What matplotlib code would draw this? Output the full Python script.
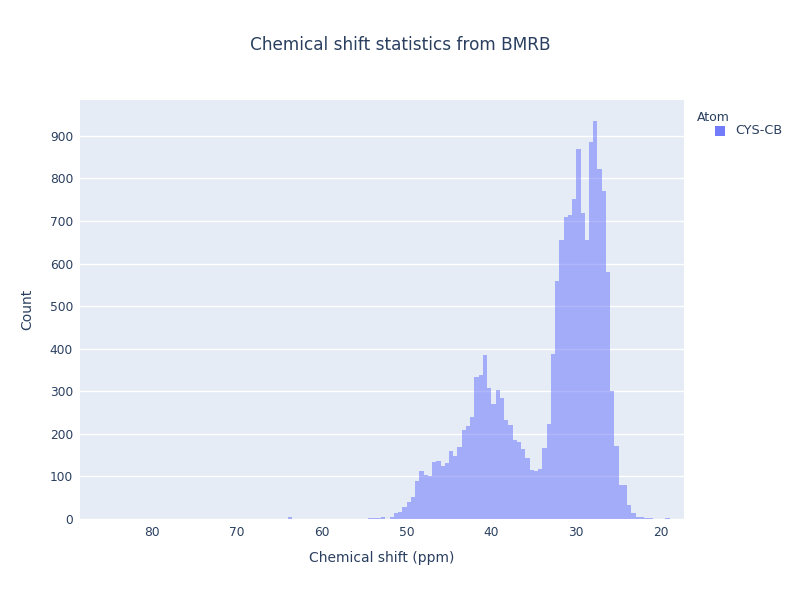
import numpy as np
import matplotlib
matplotlib.use("Agg")
import matplotlib.pyplot as plt
from matplotlib.patches import Rectangle

plt.rcParams['font.family'] = ['DejaVu Sans']

# histogram bins: left edge in ppm, width 0.5 ppm
bin_left = [19.0, 19.5, 20.0, 20.5, 21.0, 21.5, 22.0, 22.5, 23.0, 23.5,
            24.0, 24.5, 25.0, 25.5, 26.0, 26.5, 27.0, 27.5, 28.0, 28.5,
            29.0, 29.5, 30.0, 30.5, 31.0, 31.5, 32.0, 32.5, 33.0, 33.5,
            34.0, 34.5, 35.0, 35.5, 36.0, 36.5, 37.0, 37.5, 38.0, 38.5,
            39.0, 39.5, 40.0, 40.5, 41.0, 41.5, 42.0, 42.5, 43.0, 43.5,
            44.0, 44.5, 45.0, 45.5, 46.0, 46.5, 47.0, 47.5, 48.0, 48.5,
            49.0, 49.5, 50.0, 50.5, 51.0, 51.5, 52.0, 52.5, 53.0, 53.5,
            54.0, 63.5]
counts = [3, 1, 1, 0, 3, 3, 4, 5, 15, 33,
          80, 80, 172, 300, 580, 770, 822, 935, 886, 655,
          718, 868, 752, 715, 710, 655, 560, 388, 222, 166,
          118, 113, 115, 143, 165, 180, 186, 221, 233, 285,
          303, 271, 307, 386, 339, 334, 239, 218, 208, 168,
          148, 160, 132, 124, 136, 134, 101, 104, 112, 90,
          52, 41, 29, 17, 13, 4, 1, 5, 2, 2,
          2, 4]
bin_width = 0.5

x_ticks = [80, 70, 60, 50, 40, 30, 20]
y_ticks = [0, 100, 200, 300, 400, 500, 600, 700, 800, 900]

trace_name = "CYS-CB"
text_col = "#2a3f5f"
bar_col = "#636efa"

fig = plt.figure(figsize=(8, 6), dpi=100)
ax = fig.add_axes([0.1, 0.135, 0.755, 0.6983])
ax.set_facecolor("#E5ECF6")

ax.bar(bin_left, counts, width=bin_width, align="edge", color=bar_col,
       alpha=0.5, linewidth=0, zorder=2)

ax.set_xlim(88.5, 17.3)
ax.set_ylim(0, 984)
ax.set_xticks(x_ticks)
ax.set_yticks(y_ticks)
ax.yaxis.grid(True, color="white", linewidth=1, zorder=0)
ax.set_axisbelow(True)
for s in ax.spines.values():
    s.set_visible(False)
ax.tick_params(length=0, labelsize=8.8, colors=text_col)
ax.tick_params(axis="y", pad=5)
ax.tick_params(axis="x", pad=5)

ax.set_xlabel("Chemical shift (ppm)", fontsize=10, color=text_col, labelpad=9)
ax.set_ylabel("Count", fontsize=10, color=text_col, labelpad=11)

fig.text(0.5, 0.925, "Chemical shift statistics from BMRB", ha="center",
         va="center", fontsize=12.2, color=text_col)

# legend drawn by hand, plotly style
fig.text(697 / 800, 1 - 117 / 600, "Atom", ha="left", va="center",
         fontsize=9, color=text_col)
fig.patches.append(Rectangle((715 / 800, 1 - 136 / 600), 10 / 800, 10 / 600,
                             transform=fig.transFigure, color=bar_col,
                             alpha=0.9, linewidth=0))
fig.text(735 / 800, 1 - 131 / 600, trace_name, ha="left", va="center",
         fontsize=9.2, color=text_col)

fig.savefig("out.png", dpi=100)
